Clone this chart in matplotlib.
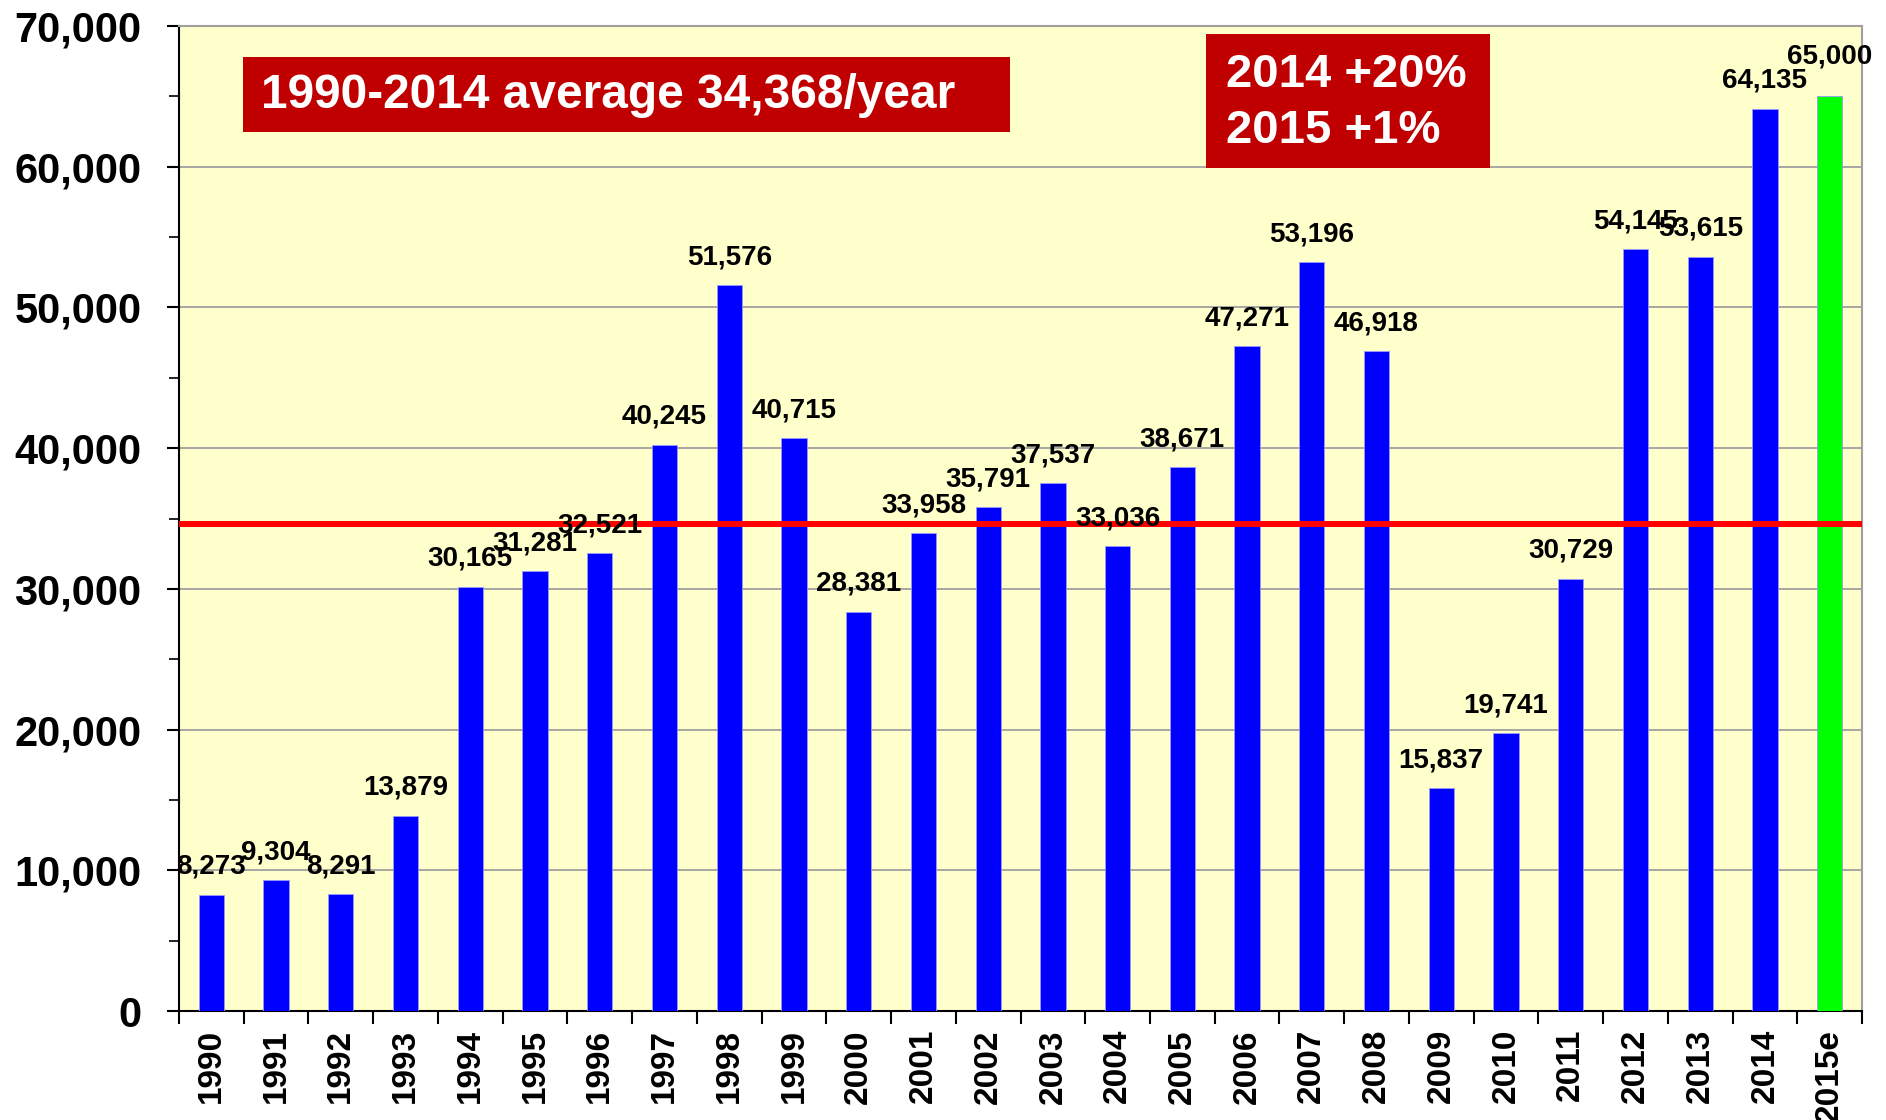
import matplotlib
matplotlib.use('Agg')
import matplotlib.pyplot as plt
from matplotlib.patches import Rectangle
from matplotlib.ticker import MultipleLocator, FuncFormatter

plt.rcParams['font.family'] = ['Liberation Sans', 'DejaVu Sans']
plt.rcParams['font.weight'] = 'bold'

years = ['1990', '1991', '1992', '1993', '1994', '1995', '1996', '1997', '1998', '1999',
         '2000', '2001', '2002', '2003', '2004', '2005', '2006', '2007', '2008', '2009',
         '2010', '2011', '2012', '2013', '2014', '2015e']
values = [8273, 9304, 8291, 13879, 30165, 31281, 32521, 40245, 51576, 40715,
          28381, 33958, 35791, 37537, 33036, 38671, 47271, 53196, 46918, 15837,
          19741, 30729, 54145, 53615, 64135, 65000]
avg_line = 34600
avg_text = '1990-2014 average 34,368/year'
growth_text = '2014 +20%\n2015 +1%'

colors = ['#0000FF'] * (len(values) - 1) + ['#00FF00']

fig = plt.figure(figsize=(18.86, 11.2), dpi=100)
ax = fig.add_axes([0.0949, 0.0973, 0.8924, 0.8795])
ax.set_facecolor('#FFFFCC')

x = list(range(len(values)))
ax.bar(x, values, width=0.39, color=colors, edgecolor='#9999FF', linewidth=0.6, zorder=3)
ax.axhline(avg_line, color='#FF0000', linewidth=4.3, zorder=4)

for xi, v in zip(x, values):
    # the estimate's label sits a bit higher in the original
    dy = 29 if xi == len(values) - 1 else 20
    ax.annotate(f'{v:,}', (xi, v), xytext=(0, dy), textcoords='offset points',
                ha='center', va='center', fontsize=20, fontweight='bold', zorder=5)

ax.set_xlim(-0.5, len(values) - 0.5)
ax.set_ylim(0, 70000)
ax.yaxis.set_major_locator(MultipleLocator(10000))
ax.yaxis.set_minor_locator(MultipleLocator(5000))
ax.yaxis.set_major_formatter(FuncFormatter(lambda v, p: f'{int(v):,}'))
ax.grid(axis='y', which='major', color='#A0A0A0', linewidth=1.3, zorder=1)
ax.set_axisbelow(True)

ax.set_xticks(x)
ax.set_xticklabels(years, rotation=90, fontsize=24, fontweight='bold')
ax.set_xticks([i - 0.5 for i in range(len(values) + 1)], minor=True)
ax.tick_params(axis='x', which='major', length=0, pad=13)
ax.tick_params(axis='x', which='minor', length=9, width=1.5, direction='out')
ax.tick_params(axis='y', which='major', length=9, width=1.5, direction='out',
               labelsize=30, pad=18)
ax.tick_params(axis='y', which='minor', length=7, width=1.2, direction='out')
for lab in ax.get_yticklabels():
    lab.set_fontweight('bold')

ax.spines['left'].set_linewidth(1.5)
ax.spines['bottom'].set_linewidth(1.5)
ax.spines['top'].set_color('#A0A0A0')
ax.spines['right'].set_color('#A0A0A0')
ax.spines['top'].set_linewidth(1.5)
ax.spines['right'].set_linewidth(1.5)

ax.add_patch(Rectangle((0.038, 0.892), 0.456, 0.0765, transform=ax.transAxes,
                       facecolor='#C00000', edgecolor='none', zorder=6))
ax.text(0.049, 0.929, avg_text, transform=ax.transAxes, color='white',
        fontsize=34.5, fontweight='bold', ha='left', va='center', zorder=7)

ax.add_patch(Rectangle((0.610, 0.856), 0.169, 0.136, transform=ax.transAxes,
                       facecolor='#C00000', edgecolor='none', zorder=6))
ax.text(0.622, 0.922, growth_text, transform=ax.transAxes, color='white',
        fontsize=34, fontweight='bold', ha='left', va='center', linespacing=1.35, zorder=7)

fig.savefig('out.png', dpi=100)
